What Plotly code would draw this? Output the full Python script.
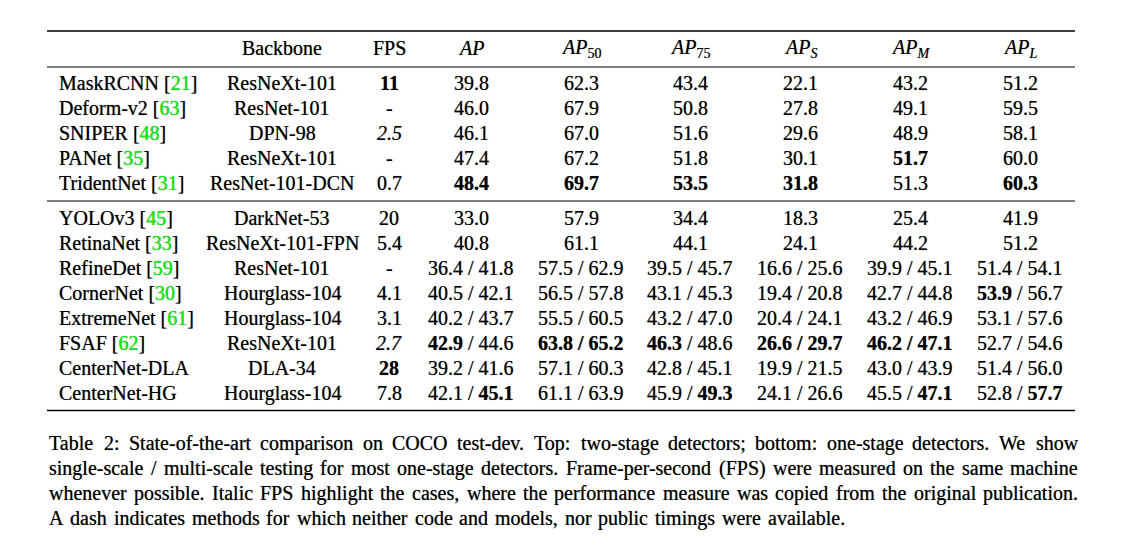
import plotly.graph_objects as go

# ---------------- data ----------------
methods = ["MaskRCNN", "Deform-v2", "SNIPER", "PANet", "TridentNet",
           "YOLOv3", "RetinaNet", "RefineDet", "CornerNet", "ExtremeNet",
           "FSAF", "CenterNet-DLA", "CenterNet-HG"]
cite_refs = ["21", "63", "48", "35", "31", "45", "33", "59", "30", "61", "62", "", ""]
backbones = ["ResNeXt-101", "ResNet-101", "DPN-98", "ResNeXt-101", "ResNet-101-DCN",
             "DarkNet-53", "ResNeXt-101-FPN", "ResNet-101", "Hourglass-104",
             "Hourglass-104", "ResNeXt-101", "DLA-34", "Hourglass-104"]
fps = ["11", "-", "2.5", "-", "0.7", "20", "5.4", "-", "4.1", "3.1", "2.7", "28", "7.8"]
fps_bold = [0, 11]
fps_italic = [2, 10]

N = None
ap_ss   = [39.8, 46.0, 46.1, 47.4, 48.4, 33.0, 40.8, 36.4, 40.5, 40.2, 42.9, 39.2, 42.1]
ap_ms   = [N, N, N, N, N, N, N, 41.8, 42.1, 43.7, 44.6, 41.6, 45.1]
ap50_ss = [62.3, 67.9, 67.0, 67.2, 69.7, 57.9, 61.1, 57.5, 56.5, 55.5, 63.8, 57.1, 61.1]
ap50_ms = [N, N, N, N, N, N, N, 62.9, 57.8, 60.5, 65.2, 60.3, 63.9]
ap75_ss = [43.4, 50.8, 51.6, 51.8, 53.5, 34.4, 44.1, 39.5, 43.1, 43.2, 46.3, 42.8, 45.9]
ap75_ms = [N, N, N, N, N, N, N, 45.7, 45.3, 47.0, 48.6, 45.1, 49.3]
aps_ss  = [22.1, 27.8, 29.6, 30.1, 31.8, 18.3, 24.1, 16.6, 19.4, 20.4, 26.6, 19.9, 24.1]
aps_ms  = [N, N, N, N, N, N, N, 25.6, 20.8, 24.1, 29.7, 21.5, 26.6]
apm_ss  = [43.2, 49.1, 48.9, 51.7, 51.3, 25.4, 44.2, 39.9, 42.7, 43.2, 46.2, 43.0, 45.5]
apm_ms  = [N, N, N, N, N, N, N, 45.1, 44.8, 46.9, 47.1, 43.9, 47.1]
apl_ss  = [51.2, 59.5, 58.1, 60.0, 60.3, 41.9, 51.2, 51.4, 53.9, 53.1, 52.7, 51.4, 52.8]
apl_ms  = [N, N, N, N, N, N, N, 54.1, 56.7, 57.6, 54.6, 56.0, 57.7]

# bold cells: (single-scale row indices, multi-scale row indices)
ap_bold   = ([4, 10], [12])
ap50_bold = ([4, 10], [10])
ap75_bold = ([4, 10], [12])
aps_bold  = ([4, 10], [10])
apm_bold  = ([3, 10], [10, 12])
apl_bold  = ([4, 8], [12])

header_labels = ["Backbone", "FPS", "<i>AP</i>", "<i>AP</i><sub>50</sub>",
                 "<i>AP</i><sub>75</sub>", "<i>AP<sub>S</sub></i>",
                 "<i>AP<sub>M</sub></i>", "<i>AP<sub>L</sub></i>"]

caption_lines = [
    "Table 2: State-of-the-art comparison on COCO test-dev. Top: two-stage detectors; bottom: one-stage detectors. We show",
    "single-scale / multi-scale testing for most one-stage detectors. Frame-per-second (FPS) were measured on the same machine",
    "whenever possible. Italic FPS highlight the cases, where the performance measure was copied from the original publication.",
    "A dash indicates methods for which neither code and models, nor public timings were available.",
]

# ---------------- layout constants ----------------
W, H = 1132, 546
FONT = "Liberation Serif, Times New Roman, serif"
FS = 20
CITE = "#00f000"
TXT = "#000000"
SHADOW = "0px 0px 0.8px rgba(0,0,0,0.55)"
method_x = 57
col_x = [282, 389, 471, 581, 690, 800, 910, 1020]
header_y = 48
row_y = [83 + 25 * i for i in range(5)] + [218 + 25 * i for i in range(8)]
rule_x0, rule_x1 = 47, 1075
cap_x0 = 47
cap_x1 = [1076, 1076, 1076, 843]
cap_y = [443, 468, 493, 518]

fig = go.Figure()
fig.add_trace(go.Scatter(x=[0, W], y=[0, H], mode="markers",
                         marker=dict(opacity=0), hoverinfo="skip", showlegend=False))

def ann(text, x, y, anchor="center", size=FS):
    fig.add_annotation(x=x, y=y, xref="x", yref="y", text=text, showarrow=False,
                       xanchor=anchor, yanchor="middle",
                       font=dict(family=FONT, size=size, color=TXT, shadow=SHADOW))

def b(s, on):
    return f"<b>{s}</b>" if on else s

def cell(i, ss, ms, bold):
    s = f"{ss[i]:.1f}"
    bs, bm = i in bold[0], i in bold[1]
    if ms[i] is None:
        return b(s, bs)
    m = f"{ms[i]:.1f}"
    if bs and bm:
        return f"<b>{s} / {m}</b>"
    return f"{b(s, bs)} / {b(m, bm)}"

# header
for lab, x in zip(header_labels, col_x):
    ann(lab, x, header_y)

metrics = [(ap_ss, ap_ms, ap_bold), (ap50_ss, ap50_ms, ap50_bold),
           (ap75_ss, ap75_ms, ap75_bold), (aps_ss, aps_ms, aps_bold),
           (apm_ss, apm_ms, apm_bold), (apl_ss, apl_ms, apl_bold)]

for i, name in enumerate(methods):
    y = row_y[i]
    label = name
    if cite_refs[i]:
        label += f" [<span style='color:{CITE}'>{cite_refs[i]}</span>]"
    ann(label, method_x, y, anchor="left")
    ann(backbones[i], col_x[0], y)
    f = fps[i]
    if i in fps_bold:
        f = f"<b>{f}</b>"
    if i in fps_italic:
        f = f"<i>{f}</i>"
    ann(f, col_x[1], y)
    for (ss, ms, bold), x in zip(metrics, col_x[2:]):
        ann(cell(i, ss, ms, bold), x, y)

# rules
for y, w in [(31, 1.7), (67, 1.1), (201, 1.1), (410.5, 1.7)]:
    fig.add_shape(type="line", xref="x", yref="y", x0=rule_x0, x1=rule_x1, y0=y, y1=y,
                  line=dict(color="#000", width=w))

# caption with approximate justification (Times metrics)
TW = {' ': 250, '!': 333, '(': 333, ')': 333, ',': 250, '-': 333, '.': 250, '/': 278,
      ':': 278, ';': 278}
for c in "0123456789":
    TW[c] = 500
TW.update(dict(A=722, B=667, C=667, D=722, E=611, F=556, G=722, H=722, I=333, J=389,
               K=722, L=611, M=889, N=722, O=722, P=556, Q=722, R=667, S=556, T=611,
               U=722, V=722, W=944, X=722, Y=722, Z=611,
               a=444, b=500, c=444, d=500, e=444, f=333, g=500, h=500, i=278, j=278,
               k=500, l=278, m=778, n=500, o=500, p=500, q=500, r=333, s=389, t=278,
               u=500, v=500, w=722, x=500, y=500, z=444))

def tw(s):
    return sum(TW.get(ch, 500) for ch in s) * FS / 1000.0

for li, line in enumerate(caption_lines):
    y = cap_y[li]
    words = line.split(" ")
    widths = [tw(wd) for wd in words]
    gap = (cap_x1[li] - cap_x0 - sum(widths)) / (len(words) - 1)
    x = cap_x0
    for wd, wdt in zip(words, widths):
        ann(wd, x, y, anchor="left")
        x += wdt + gap

fig.update_layout(
    width=W, height=H, margin=dict(l=0, r=0, t=0, b=0),
    paper_bgcolor="white", plot_bgcolor="white", showlegend=False,
    xaxis=dict(range=[0, W], visible=False, fixedrange=True),
    yaxis=dict(range=[H, 0], visible=False, fixedrange=True),
)
fig.write_html("out.html", config={"displayModeBar": False},
               post_script="document.body.style.margin='0';document.body.style.padding='0';")
